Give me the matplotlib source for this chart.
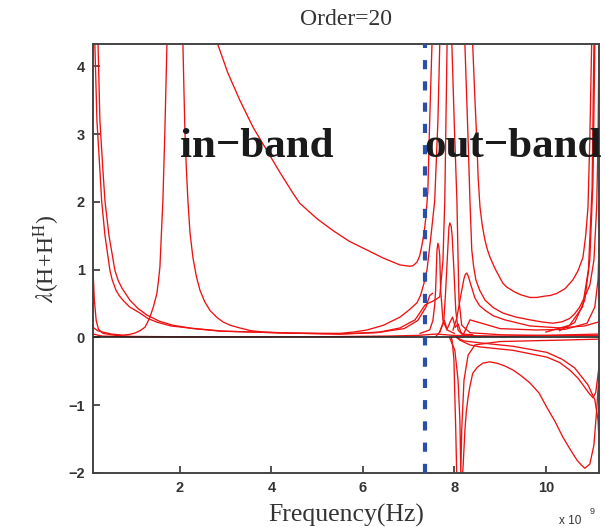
"""Eigenvalues of H+H^H vs frequency, order 20 model (in-band / out-band)."""
import matplotlib
matplotlib.use("Agg")
import matplotlib.pyplot as plt

OUT_PNG = "out.png"

RED = "#ee1111"
BLUE = "#2a4fa6"

# frequency in units of 1e9 Hz, eigenvalue lambda(H+H^H)
left0_x = [0.10, 0.13, 0.17, 0.22, 0.32, 0.6, 0.97, 2.0, 4.0]
left0_y = [1.00, 0.55, 0.25, 0.12, 0.06, 0.03, 0.015, 0.01, 0.01]

left1_x = [0.13, 0.186, 0.251, 0.289, 0.361, 0.470, 0.52, 0.601, 0.67, 0.754, 0.9, 1.126, 1.3, 1.497, 1.8,
           2.219, 2.94, 4.40, 5.5, 6.37, 6.81, 7.14, 7.36, 7.57, 7.68, 7.75, 7.79, 7.84, 7.86]
left1_y = [4.60, 3.20, 2.47, 2.02, 1.51, 0.99, 0.85, 0.70, 0.62, 0.55, 0.45, 0.36, 0.28, 0.226, 0.17,
           0.138, 0.093, 0.064, 0.05, 0.08, 0.14, 0.26, 0.48, 0.55, 0.60, 1.14, 2.02, 4.32, 4.60]

left2_x = [0.20, 0.251, 0.317, 0.361, 0.448, 0.579, 0.65, 0.732, 0.907, 1.08, 1.279, 1.55, 1.847, 2.3, 2.874,
           4.40, 5.5, 6.3, 6.9, 7.2, 7.38, 7.46, 7.52]
left2_y = [4.60, 3.20, 2.47, 2.02, 1.51, 0.99, 0.84, 0.73, 0.55, 0.43, 0.33, 0.24, 0.18, 0.13, 0.093,
           0.064, 0.05, 0.07, 0.13, 0.25, 0.45, 0.62, 0.65]

valley_x = [0.10, 0.2, 0.317, 0.5, 0.754, 0.9, 1.016, 1.13, 1.235, 1.29, 1.344, 1.42, 1.497, 1.53, 1.563,
            1.628, 1.672, 1.716, 1.73]
valley_y = [0.15, 0.10, 0.078, 0.05, 0.034, 0.045, 0.064, 0.10, 0.15, 0.22, 0.30, 0.45, 0.65, 0.83, 1.04,
            2.02, 3.06, 4.32, 4.60]

peak2_x = [2.06, 2.066, 2.09, 2.109, 2.14, 2.175, 2.22, 2.284, 2.36, 2.437, 2.54, 2.656, 2.8, 2.94, 3.1,
           3.311, 3.55, 3.814, 4.40, 5.5, 5.8, 6.09, 6.45, 6.81, 7.0, 7.18, 7.26, 7.31, 7.36, 7.40,
           7.49, 7.57, 7.64, 7.68, 7.70]
peak2_y = [4.60, 4.32, 3.60, 3.06, 2.50, 2.02, 1.55, 1.18, 0.90, 0.70, 0.53, 0.40, 0.30, 0.23, 0.18,
           0.14, 0.10, 0.08, 0.064, 0.06, 0.08, 0.11, 0.18, 0.30, 0.40, 0.51, 0.62, 0.74, 0.86, 0.99,
           1.51, 2.02, 3.20, 4.32, 4.60]

sweep_x = [2.78, 2.83, 3.05, 3.31, 3.6, 3.90, 4.2, 4.47, 4.62, 5.0, 5.34, 5.7, 6.09, 6.45, 6.81, 7.03,
           7.1, 7.18, 7.24, 7.29, 7.34, 7.38, 7.42, 7.46, 7.51, 7.52]
sweep_y = [4.60, 4.32, 3.90, 3.50, 3.10, 2.76, 2.42, 2.13, 1.98, 1.75, 1.58, 1.42, 1.29, 1.17, 1.07, 1.05,
           1.06, 1.11, 1.20, 1.36, 1.55, 1.80, 2.17, 3.20, 4.32, 4.60]

base_x = [0.10, 0.3, 1.0, 3.0, 5.0, 6.5, 7.2, 7.6, 8.0, 9.0, 10.0, 11.16]
base_y = [0.05, 0.02, 0.01, 0.01, 0.01, 0.02, 0.03, 0.05, 0.03, 0.02, 0.03, 0.05]

bumps_x = [7.60, 7.68, 7.72, 7.78, 7.84, 7.90, 7.96, 8.02, 8.08, 8.14, 8.22]
bumps_y = [0.02, 0.08, 0.15, 0.25, 0.12, 0.22, 0.30, 0.15, 0.20, 0.08, 0.03]

bump1_x = [7.25, 7.46, 7.53, 7.57, 7.59, 7.62, 7.64, 7.66, 7.68, 7.70, 7.75, 7.84, 8.0]
bump1_y = [0.06, 0.11, 0.25, 0.48, 0.70, 1.29, 1.39, 1.34, 1.20, 0.70, 0.25, 0.11, 0.06]

bump2_x = [7.68, 7.77, 7.81, 7.86, 7.88, 7.90, 7.93, 7.95, 7.99, 8.03, 8.08, 8.16, 8.4]
bump2_y = [0.08, 0.25, 0.70, 1.36, 1.62, 1.69, 1.64, 1.51, 0.99, 0.40, 0.11, 0.05, 0.04]

bump3_x = [7.97, 8.05, 8.14, 8.21, 8.24, 8.27, 8.30, 8.34, 8.45, 8.55, 8.67, 8.85, 9.10, 9.65, 10.31, 10.85, 11.16]
bump3_y = [0.11, 0.28, 0.62, 0.87, 0.93, 0.95, 0.91, 0.82, 0.58, 0.47, 0.40, 0.32, 0.26, 0.17, 0.14, 0.17, 0.23]

drop_x = [7.93, 7.945, 8.00, 8.055, 8.077, 8.10, 8.16, 8.34, 9.0, 10.0, 11.16]
drop_y = [4.60, 4.32, 3.10, 2.02, 1.28, 0.55, 0.18, 0.07, 0.04, 0.03, 0.03]

bowl1_x = [8.39, 8.40, 8.45, 8.49, 8.52, 8.56, 8.61, 8.67, 8.72, 8.78, 8.9, 9.06, 9.15, 9.32, 9.45, 9.65,
           9.8, 9.98, 10.1, 10.24, 10.42, 10.59, 10.7, 10.81, 10.87, 10.92, 10.96, 11.0, 11.01]
bowl1_y = [4.60, 4.32, 3.50, 2.91, 2.35, 1.92, 1.65, 1.43, 1.30, 1.18, 1.00, 0.80, 0.74, 0.67, 0.63, 0.59,
           0.59, 0.61, 0.62, 0.65, 0.72, 0.85, 0.98, 1.18, 1.50, 1.92, 2.91, 4.32, 4.60]

bowl2_x = [8.22, 8.23, 8.30, 8.34, 8.38, 8.42, 8.47, 8.55, 8.67, 8.85, 9.06, 9.35, 9.65, 9.9, 10.15,
           10.35, 10.52, 10.63, 10.74, 10.85, 10.96, 11.0, 11.05, 11.11, 11.14, 11.16]
bowl2_y = [4.60, 4.32, 2.91, 2.02, 1.29, 1.05, 0.85, 0.70, 0.55, 0.44, 0.36, 0.30, 0.26, 0.23, 0.21,
           0.23, 0.28, 0.35, 0.45, 0.60, 0.77, 0.93, 1.14, 1.92, 2.91, 4.32]

bowl3_x = [8.20, 8.34, 9.0, 9.8, 10.42, 10.9, 11.07, 11.14, 11.16]
bowl3_y = [0.05, 0.26, 0.13, 0.11, 0.12, 0.21, 0.45, 0.85, 1.30]

edge_x = [10.3, 10.63, 10.85, 10.96, 11.03, 11.07, 11.08]
edge_y = [0.10, 0.22, 0.55, 1.14, 2.32, 4.32, 4.60]

edge2_x = [10.0, 10.52, 10.80, 10.93, 11.01, 11.05, 11.06]
edge2_y = [0.08, 0.18, 0.45, 1.00, 2.20, 4.32, 4.60]

arch_x = [7.93, 7.95, 7.99, 8.01, 8.03, 8.05, 8.12, 8.186, 8.23, 8.26, 8.30, 8.34, 8.40, 8.5, 8.62, 8.77,
          8.93, 9.1, 9.28, 9.45, 9.65, 9.85, 10.02, 10.2, 10.37, 10.53, 10.68, 10.77, 10.85, 10.96, 11.05,
          11.11, 11.16]
arch_y = [0.00, -0.04, -0.33, -0.88, -1.37, -2.00, -2.25, -1.96, -1.37, -1.10, -0.88, -0.72, -0.53, -0.44,
          -0.38, -0.36, -0.38, -0.42, -0.48, -0.56, -0.67, -0.82, -1.03, -1.24, -1.47, -1.65, -1.81, -1.88,
          -1.93, -1.87, -1.59, -1.07, -0.56]

band1_x = [8.05, 8.12, 8.34, 8.56, 9.28, 10.02, 10.3, 10.52, 10.7, 10.81, 10.95, 11.03, 11.09, 11.16]
band1_y = [0.00, -0.04, -0.11, -0.14, -0.19, -0.29, -0.37, -0.48, -0.60, -0.70, -0.83, -0.89, -0.81, -0.44]

band2_x = [8.05, 8.20, 8.56, 9.28, 10.02, 10.35, 10.63, 10.92, 11.07, 11.14, 11.16]
band2_y = [0.00, -0.05, -0.08, -0.13, -0.22, -0.32, -0.45, -0.70, -0.92, -1.22, -1.50]

dip_x = [7.90, 8.01, 8.08, 8.12, 8.14, 8.16, 8.21, 8.30, 8.45, 9.0, 10.31, 11.16]
dip_y = [-0.01, -0.19, -0.63, -1.22, -2.00, -1.37, -0.63, -0.26, -0.11, -0.06, -0.04, -0.025]

CURVES = [
    (left0_x, left0_y), (left1_x, left1_y), (left2_x, left2_y),
    (valley_x, valley_y), (peak2_x, peak2_y), (sweep_x, sweep_y),
    (base_x, base_y), (bumps_x, bumps_y), (bump1_x, bump1_y),
    (bump2_x, bump2_y), (bump3_x, bump3_y), (drop_x, drop_y),
    (bowl1_x, bowl1_y), (bowl2_x, bowl2_y), (bowl3_x, bowl3_y),
    (edge_x, edge_y), (edge2_x, edge2_y),
    (arch_x, arch_y), (band1_x, band1_y), (band2_x, band2_y), (dip_x, dip_y),
]

BAND_EDGE = 7.36
X_TICKS = [2, 4, 6, 8, 10]
Y_TICKS = [-2, -1, 0, 1, 2, 3, 4]


def main():
    plt.rcParams["font.family"] = ["Liberation Sans", "DejaVu Sans"]
    plt.rcParams["mathtext.fontset"] = "stix"
    serif = ["Liberation Serif", "DejaVu Serif"]

    fig = plt.figure(figsize=(6.05, 5.27), dpi=100)
    ax = fig.add_axes([0.1537, 0.1025, 0.8363, 0.814])

    for xs, ys in CURVES:
        ax.plot(xs, ys, color=RED, lw=0.95, solid_joinstyle="round")

    ax.axhline(0, color="#222222", lw=1.2, zorder=3)
    ax.axvline(BAND_EDGE, color=BLUE, lw=3.0, dashes=(2.2, 2.9), zorder=4)

    ax.set_xlim(0.1, 11.16)
    ax.set_ylim(-2, 4.33)
    ax.set_xticks(X_TICKS)
    ax.set_yticks(Y_TICKS)
    ax.tick_params(direction="in", length=5, width=1.2, labelsize=10.5,
                   colors="#333333", pad=6)
    for lab in ax.get_xticklabels() + ax.get_yticklabels():
        lab.set_fontweight("bold")
    for sp in ax.spines.values():
        sp.set_linewidth(1.4)
        sp.set_color("#444444")

    ax.set_title("Order=20", family=serif, fontsize=17, color="#333333", pad=14)
    ax.set_xlabel("Frequency(Hz)", family=serif, fontsize=18.5, color="#333333", labelpad=6)
    ax.set_ylabel(r"$\lambda$(H+H$^{\rm H}$)", family=serif, fontsize=17,
                  color="#333333", labelpad=4)

    ax.text(2.0, 2.66, "in\u2212band", family=serif, fontsize=31, fontweight="bold",
            color="#1a1a1a", va="baseline", ha="left")
    ax.text(7.34, 2.66, "out\u2212band", family=serif, fontsize=31, fontweight="bold",
            color="#1a1a1a", va="baseline", ha="left", clip_on=False)

    fig.text(0.943, 0.012, "x 10", fontsize=8.5, color="#333333", ha="center", va="center")
    fig.text(0.978, 0.030, "9", fontsize=6.5, color="#333333", ha="center", va="center")

    fig.savefig(OUT_PNG, dpi=100)
    print("saved", OUT_PNG)


if __name__ == "__main__":
    main()
